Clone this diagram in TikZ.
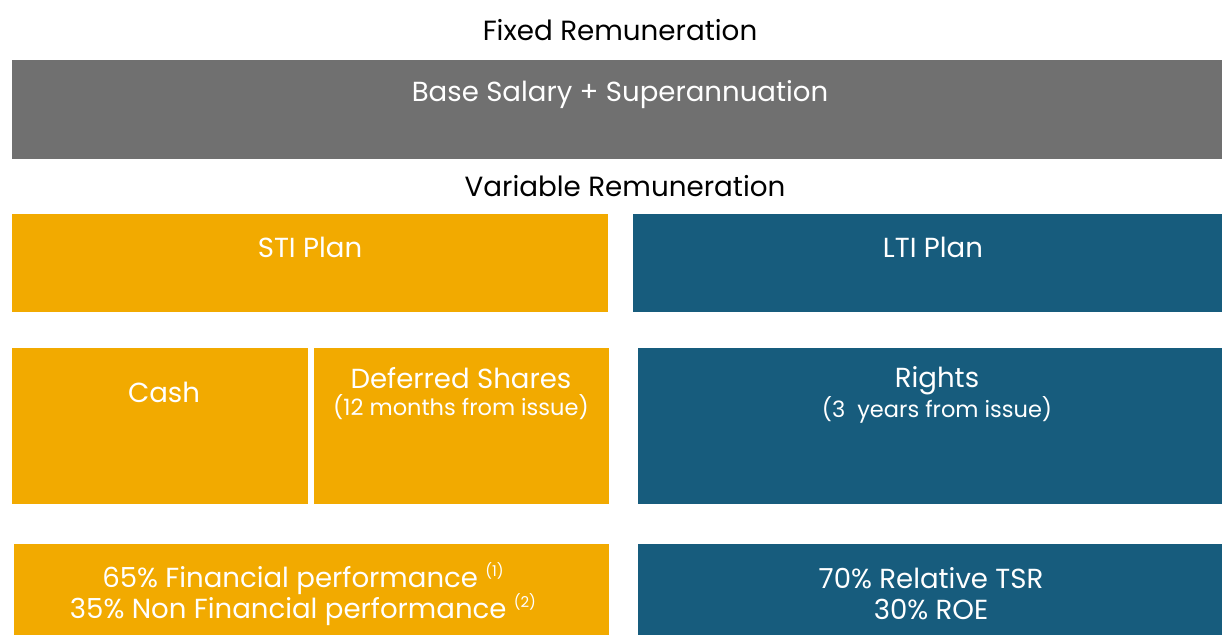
\documentclass[tikz,border=0pt]{standalone}
\usepackage{fontspec}
\setmainfont{Poppins}
\usepackage{tikz}
\usetikzlibrary{positioning}
\definecolor{fixgray}{HTML}{707070}
\definecolor{stiorange}{HTML}{F2AA00}
\definecolor{ltiblue}{HTML}{175C7D}
\newcommand{\fnmark}[1]{\smash{\raisebox{0.75ex}{\fontsize{8.5}{9}\selectfont(#1)}}}

\begin{document}
\begin{tikzpicture}[x=0.02cm, y=-0.02cm,
	box/.style={rectangle, draw=none, anchor=north west, inner sep=0pt},
	lbl/.style={text=white, font=\fontsize{15.7}{17.6}\selectfont, align=center},
	head/.style={text=black, font=\fontsize{15.8}{18}\selectfont},
	small/.style={text=white, font=\fontsize{12.8}{15}\selectfont}
]
	\useasboundingbox (0,0) rectangle (1222,635);

	% Fixed part
	\node[head] (fixed) at (620, 30) {Fixed Remuneration};
	\node[box, fill=fixgray, minimum width=24.2cm, minimum height=1.98cm] (base) at (12, 60) {};
	\node[lbl] (basetxt) at (620, 95) {Base Salary + Superannuation};

	% Variable part
	\node[head] (variable) at (625, 186) {Variable Remuneration};
	\node[box, fill=stiorange, minimum width=11.92cm, minimum height=1.96cm] (sti) at (12, 214) {};
	\node[box, fill=ltiblue, minimum width=11.78cm, minimum height=1.96cm] (lti) at (633, 214) {};
	\node[lbl] (stitxt) at (310, 247) {STI Plan};
	\node[lbl] (ltitxt) at (933, 247) {LTI Plan};

	% Delivery
	\node[box, fill=stiorange, minimum width=5.92cm, minimum height=3.12cm] (cash) at (12, 348) {};
	\node[box, fill=stiorange, minimum width=5.9cm, minimum height=3.12cm] (deferred) at (314, 348) {};
	\node[box, fill=ltiblue, minimum width=11.68cm, minimum height=3.12cm] (rights) at (638, 348) {};
	\node[lbl] (cashtxt) at (164, 392) {Cash};
	\node[lbl] (deftxt) at (461, 378) {Deferred Shares};
	\node[small] (defsub) at (461, 407) {(12 months from issue)};
	\node[lbl] (rightstxt) at (937, 381) {Rights};
	\node[small] (rightssub) at (937, 410) {(3\ \ years from issue)};

	% Performance measures
	\node[box, fill=stiorange, minimum width=11.9cm, minimum height=1.82cm] (stiperf) at (14, 544) {};
	\node[box, fill=ltiblue, minimum width=11.68cm, minimum height=1.82cm] (ltiperf) at (638, 544) {};
	\node[lbl] (stiperftxt) at (303, 596)
		{65\% Financial performance \fnmark{1}\\ 35\% Non Financial performance \fnmark{2}};
	\node[lbl] (ltiperftxt) at (931, 594) {70\% Relative TSR\\ 30\% ROE};
\end{tikzpicture}
\end{document}
